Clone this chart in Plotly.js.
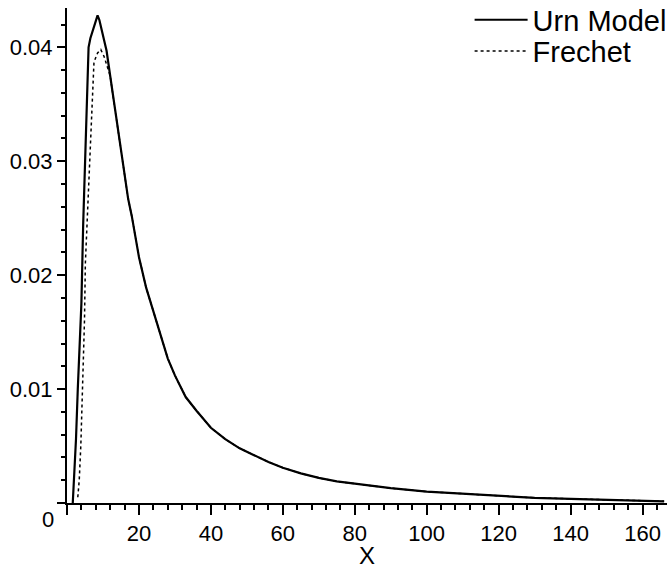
<!DOCTYPE html>
<html>
<head>
<meta charset="utf-8">
<script src="https://cdn.plot.ly/plotly-3.0.1.min.js"></script>
<style>html,body{margin:0;padding:0;background:#fff;}</style>
</head>
<body>
<div id="chart" style="width:669px;height:569px;"></div>
<script>
// Urn model: rising part and peak
const urnHeadX = [1.6, 1.8, 2.0, 2.5, 3.0, 3.5, 4.0, 4.5, 5.0, 5.5, 6.0, 6.5, 7.0, 7.5, 8.0, 8.5, 9.0, 10, 11];
const urnHeadY = [0, 0.0012, 0.0025, 0.0056, 0.0100, 0.0135, 0.0175, 0.0245, 0.0300, 0.0360, 0.0400, 0.0408, 0.0413, 0.0418, 0.0424, 0.0428, 0.0424, 0.0411, 0.0397];
// Frechet: rising part and peak
const frechetHeadX = [3.0, 3.4, 3.84, 4.4, 4.86, 5.1, 5.7, 6.35, 6.9, 7.5, 8.5, 9.4, 10.3, 11.3];
const frechetHeadY = [0.0005, 0.002, 0.005, 0.011, 0.016, 0.021, 0.0255, 0.031, 0.0357, 0.0387, 0.0395, 0.0398, 0.0392, 0.0383];
// Shared tail where both curves coincide
const tailX = [12, 13, 14, 15, 16, 17, 18, 20, 22, 24, 26, 28, 30, 33, 36, 40, 44, 48, 52, 56, 60, 65, 70, 75, 80, 90, 100, 112, 120, 130, 140, 150, 160, 166];
const tailY = [0.0375, 0.0353, 0.0331, 0.0310, 0.0287, 0.0267, 0.0252, 0.0216, 0.0189, 0.0168, 0.0146, 0.0127, 0.0112, 0.0093, 0.0081, 0.0066, 0.0056, 0.0048, 0.0042, 0.0036, 0.0031, 0.0026, 0.0022, 0.0019, 0.0017, 0.0013, 0.0010, 0.00078, 0.00065, 0.00045, 0.00037, 0.00028, 0.0002, 0.00015];

const xTickVals = [0, 20, 40, 60, 80, 100, 120, 140, 160];
const xTickText = ['', '20', '40', '60', '80', '100', '120', '140', '160'];
const yTickVals = [0, 0.01, 0.02, 0.03, 0.04];
const yTickText = ['', '0.01', '0.02', '0.03', '0.04'];
const seriesNames = ['Urn Model', 'Frechet'];

const font = 'Liberation Sans, Arial, sans-serif';

const traces = [
  {
    x: urnHeadX.concat(tailX), y: urnHeadY.concat(tailY),
    type: 'scatter', mode: 'lines', name: seriesNames[0], legend: 'legend',
    line: {color: '#000', width: 2.2}
  },
  {
    x: frechetHeadX.concat(tailX), y: frechetHeadY.concat(tailY),
    type: 'scatter', mode: 'lines', name: seriesNames[1], legend: 'legend2',
    line: {color: '#000', width: 1.5, dash: 'dot'}
  }
];

const axisCommon = {
  showline: true, linecolor: '#000', linewidth: 2,
  ticks: 'outside', tickcolor: '#000', tickwidth: 2,
  showgrid: false, zeroline: false, automargin: false,
  tickfont: {family: font, size: 22, color: '#000'}
};

const legendCommon = {
  xanchor: 'left', yanchor: 'middle',
  bgcolor: 'rgba(0,0,0,0)', itemwidth: 53,
  font: {family: font, size: 29, color: '#000'}
};

const layout = {
  width: 669, height: 569,
  margin: {l: 67, r: 2, t: 8, b: 66, autoexpand: false},
  paper_bgcolor: '#fff', plot_bgcolor: '#fff',
  showlegend: true,
  legend: Object.assign({}, legendCommon, {x: 0.671, y: 0.976}),
  legend2: Object.assign({}, legendCommon, {x: 0.671, y: 0.913}),
  xaxis: Object.assign({}, axisCommon, {
    range: [0, 166.8],
    tickmode: 'array', tickvals: xTickVals, ticktext: xTickText,
    ticklen: 10,
    minor: {dtick: 4, tick0: 0, ticks: 'outside', ticklen: 5, tickcolor: '#000', tickwidth: 2},
    title: {text: 'X', font: {family: font, size: 24, color: '#000'}, standoff: 2}
  }),
  yaxis: Object.assign({}, axisCommon, {
    range: [0, 0.04345],
    tickmode: 'array', tickvals: yTickVals, ticktext: yTickText,
    ticklen: 8,
    minor: {dtick: 0.002, tick0: 0, ticks: 'outside', ticklen: 4, tickcolor: '#000', tickwidth: 2}
  }),
  annotations: [
    {text: '0', xref: 'paper', yref: 'y', x: -0.019, y: 0, xanchor: 'right', yanchor: 'middle',
     yshift: -16, showarrow: false, font: {family: font, size: 22, color: '#000'}}
  ]
};

Plotly.newPlot('chart', traces, layout, {displayModeBar: false, staticPlot: true});
</script>
</body>
</html>
